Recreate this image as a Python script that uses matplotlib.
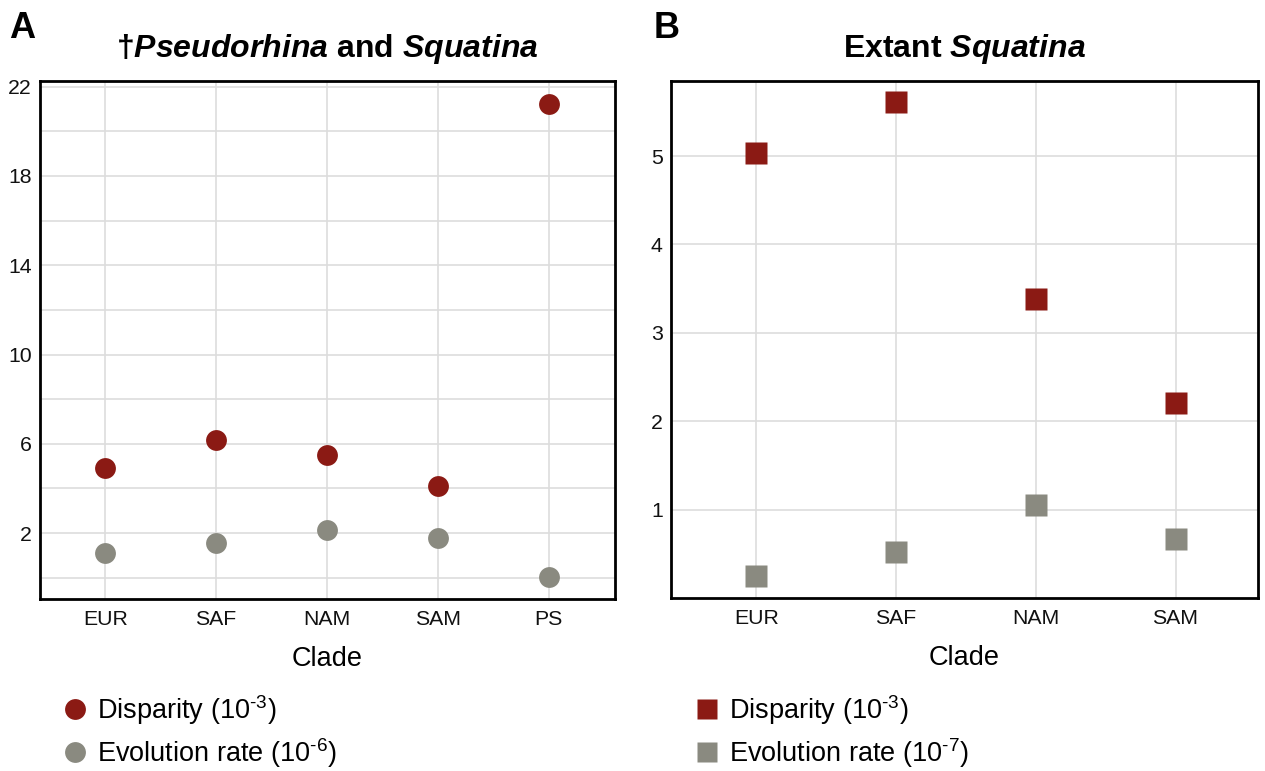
import matplotlib
matplotlib.use("Agg")
import matplotlib.pyplot as plt
from matplotlib.lines import Line2D

plt.rcParams['font.family'] = ['Liberation Sans', 'DejaVu Sans']
plt.rcParams['mathtext.fontset'] = 'custom'
plt.rcParams['mathtext.rm'] = 'Liberation Sans'
plt.rcParams['mathtext.it'] = 'Liberation Sans:italic'
plt.rcParams['mathtext.bf'] = 'Liberation Sans:bold'
plt.rcParams['mathtext.bfit'] = 'Liberation Sans:bold:italic'

# panel A: fossil + extant
clades_a = ['EUR', 'SAF', 'NAM', 'SAM', 'PS']
disparity_a = [4.9, 6.15, 5.5, 4.1, 21.2]
rate_a = [1.1, 1.55, 2.15, 1.8, 0.05]

# panel B: extant only
clades_b = ['EUR', 'SAF', 'NAM', 'SAM']
disparity_b = [5.04, 5.61, 3.38, 2.21]
rate_b = [0.25, 0.52, 1.05, 0.67]

RED = '#8B1A14'
GREY = '#8A8A80'

W, H = 1265, 771
fig = plt.figure(figsize=(W / 100, H / 100), dpi=100)
axA = fig.add_axes([40 / W, (H - 599) / H, (615 - 40) / W, (599 - 81) / H])
axB = fig.add_axes([671 / W, (H - 598) / H, (1258 - 671) / W, (598 - 81) / H])


def style(ax, labels):
    ax.set_xticks(range(len(labels)))
    ax.set_xticklabels(labels)
    ax.grid(True, which='both', color='#DDDDDD', linewidth=1.2)
    ax.set_axisbelow(True)
    for s in ax.spines.values():
        s.set_linewidth(2)
        s.set_color('black')
    ax.tick_params(which='both', length=0, labelsize=15.3, colors='#111111')
    ax.tick_params(axis='y', pad=6)
    ax.tick_params(axis='x', pad=8)
    ax.set_xlabel('Clade', fontsize=19.5, labelpad=12)


# A
xa = range(len(clades_a))
axA.plot(xa, disparity_a, 'o', color=RED, ms=15, mec='none', zorder=3)
axA.plot(xa, rate_a, 'o', color=GREY, ms=15, mec='none', zorder=3)
style(axA, clades_a)
axA.set_xlim(-0.59, 4.6)
axA.set_ylim(-0.95, 22.25)
axA.set_yticks([2, 6, 10, 14, 18, 22])
axA.set_yticks([0, 4, 8, 12, 16, 20], minor=True)
axA.set_title(r'†$\mathbfit{Pseudorhina}$ and $\mathbfit{Squatina}$',
              fontsize=23, fontweight='bold', pad=17)

# B
xb = range(len(clades_b))
axB.plot(xb, disparity_b, 's', color=RED, ms=16, mec='none', zorder=3)
axB.plot(xb, rate_b, 's', color=GREY, ms=16, mec='none', zorder=3)
style(axB, clades_b)
axB.set_xlim(-0.61, 3.59)
axB.set_ylim(0, 5.85)
axB.set_yticks([1, 2, 3, 4, 5])
axB.set_title(r'Extant $\mathbfit{Squatina}$', fontsize=23, fontweight='bold', pad=17)

fig.text(9 / W, 1 - 29 / H, 'A', fontsize=26, fontweight='bold', va='center')
fig.text(654 / W, 1 - 29 / H, 'B', fontsize=26, fontweight='bold', va='center')

lab_a = [r'Disparity (10$^{\text{-3}}$)', r'Evolution rate (10$^{\text{-6}}$)']
lab_b = [r'Disparity (10$^{\text{-3}}$)', r'Evolution rate (10$^{\text{-7}}$)']
h_a = [Line2D([], [], ls='none', marker='o', color=c, ms=15, mec='none') for c in (RED, GREY)]
h_b = [Line2D([], [], ls='none', marker='s', color=c, ms=15, mec='none') for c in (RED, GREY)]
fig.legend(h_a, lab_a, loc='upper left', bbox_to_anchor=(59 / W, 1 - 693 / H),
           frameon=False, fontsize=19.5, handletextpad=0.2, labelspacing=0.33,
           handlelength=1.2, borderaxespad=0, borderpad=0)
fig.legend(h_b, lab_b, loc='upper left', bbox_to_anchor=(691 / W, 1 - 693 / H),
           frameon=False, fontsize=19.5, handletextpad=0.2, labelspacing=0.33,
           handlelength=1.2, borderaxespad=0, borderpad=0)

fig.savefig('out.png', dpi=100)
